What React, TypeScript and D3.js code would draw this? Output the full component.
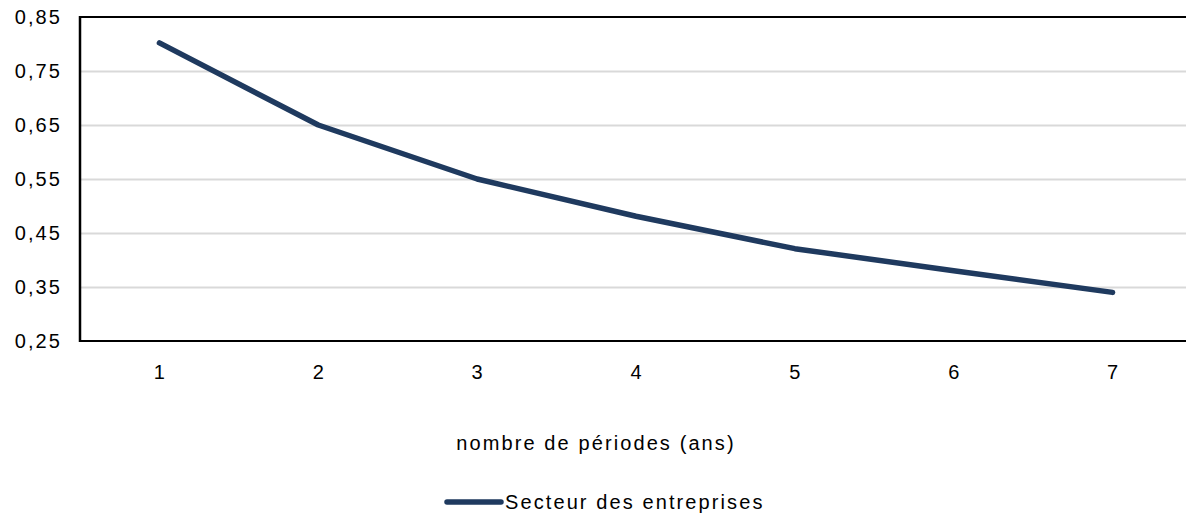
import { useEffect, useRef } from "react"
import * as d3 from "d3"

const periods = ["1", "2", "3", "4", "5", "6", "7"]
const entreprises = [0.802, 0.65, 0.55, 0.481, 0.421, 0.38, 0.34]
const yTicks = [0.25, 0.35, 0.45, 0.55, 0.65, 0.75, 0.85]
const seriesName = "Secteur des entreprises"
const xTitle = "nombre de périodes (ans)"

const width = 1186
const height = 517
const font = "'Liberation Sans', Arial, sans-serif"

export default function App() {
  const svgRef = useRef<SVGSVGElement>(null)

  useEffect(() => {
    if (!svgRef.current) return
    const svg = d3.select(svgRef.current)
    svg.selectAll("*").remove()

    const left = 80
    const top = 17
    const bottom = 341
    const right = 1192

    const x = d3.scaleBand().domain(periods).range([left, right]).padding(0)
    const y = d3.scaleLinear().domain([0.25, 0.85]).range([bottom, top])

    const fmt = (v: number) => d3.format(".2f")(v).replace(".", ",")

    // gridlines
    svg
      .append("g")
      .selectAll("line")
      .data(yTicks.filter((t) => t > 0.25 && t < 0.85))
      .enter()
      .append("line")
      .attr("x1", left)
      .attr("x2", width)
      .attr("y1", (d) => Math.round(y(d)) + 0.5)
      .attr("y2", (d) => Math.round(y(d)) + 0.5)
      .attr("stroke", "#d9d9d9")
      .attr("stroke-width", 2)

    // frame: top, left, bottom
    svg.append("line").attr("x1", left).attr("x2", width).attr("y1", top).attr("y2", top)
      .attr("stroke", "#000").attr("stroke-width", 2)
    svg.append("line").attr("x1", left).attr("x2", left).attr("y1", top - 1).attr("y2", bottom + 1)
      .attr("stroke", "#000").attr("stroke-width", 2.5)
    svg.append("line").attr("x1", left).attr("x2", width).attr("y1", bottom).attr("y2", bottom)
      .attr("stroke", "#000").attr("stroke-width", 2)

    // y labels
    svg
      .append("g")
      .selectAll("text")
      .data(yTicks)
      .enter()
      .append("text")
      .attr("x", 62)
      .attr("y", (d) => y(d))
      .attr("dy", "0.36em")
      .attr("text-anchor", "end")
      .attr("font-family", font)
      .attr("font-size", 20)
      .attr("letter-spacing", 2.1)
      .attr("fill", "#000")
      .text((d) => fmt(d))

    // x labels
    svg
      .append("g")
      .selectAll("text")
      .data(periods)
      .enter()
      .append("text")
      .attr("x", (d) => (x(d) || 0) + x.bandwidth() / 2)
      .attr("y", 379)
      .attr("text-anchor", "middle")
      .attr("font-family", font)
      .attr("font-size", 20)
      .attr("fill", "#000")
      .text((d) => d)

    // line
    const line = d3
      .line<number>()
      .x((_, i) => (x(periods[i]) || 0) + x.bandwidth() / 2)
      .y((d) => y(d))

    svg
      .append("path")
      .datum(entreprises)
      .attr("d", line)
      .attr("fill", "none")
      .attr("stroke", "#1f3a5f")
      .attr("stroke-width", 5.5)
      .attr("stroke-linecap", "round")
      .attr("stroke-linejoin", "round")

    // axis title
    svg
      .append("text")
      .attr("x", 596)
      .attr("y", 450)
      .attr("text-anchor", "middle")
      .attr("font-family", font)
      .attr("font-size", 20)
      .attr("letter-spacing", 2.1)
      .attr("fill", "#000")
      .text(xTitle)

    // legend
    svg.append("line").attr("x1", 447).attr("x2", 501).attr("y1", 502).attr("y2", 502)
      .attr("stroke", "#1f3a5f").attr("stroke-width", 5.5).attr("stroke-linecap", "round")
    svg
      .append("text")
      .attr("x", 505)
      .attr("y", 509)
      .attr("font-family", font)
      .attr("font-size", 20)
      .attr("letter-spacing", 2.1)
      .attr("fill", "#000")
      .text(seriesName)
  }, [])

  return (
    <svg
      ref={svgRef}
      width={width}
      height={height}
      style={{ position: "absolute", left: 0, top: 0, background: "#fff" }}
    ></svg>
  )
}
